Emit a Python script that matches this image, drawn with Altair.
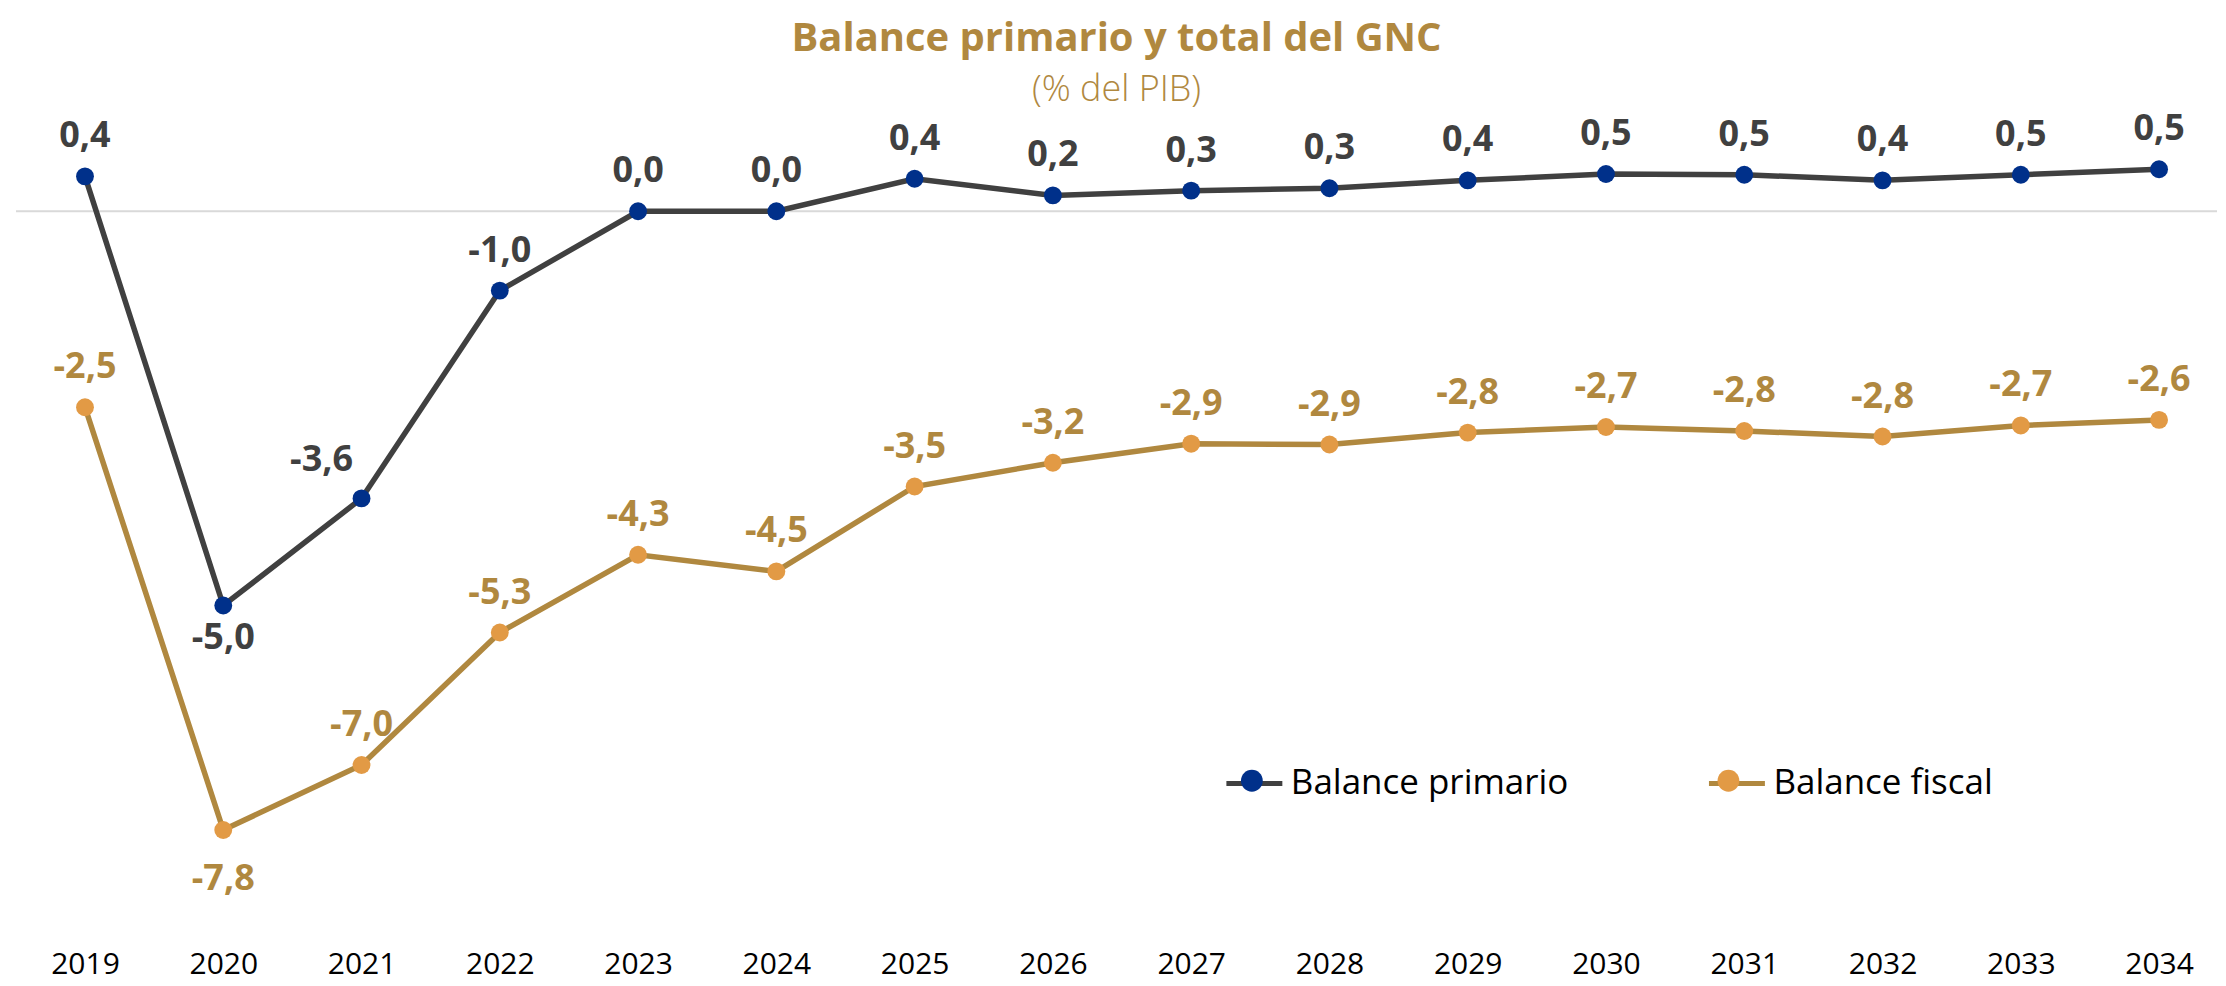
import altair as alt
import pandas as pd

# ---------------- data ----------------
anios = list(range(2019, 2035))
series = ["Balance primario", "Balance fiscal"]
balance_primario = [0.44, -4.97, -3.62, -1.00, 0.00, 0.00, 0.41, 0.20, 0.26, 0.29,
                    0.39, 0.47, 0.46, 0.39, 0.46, 0.53]
balance_fiscal = [-2.47, -7.80, -6.98, -5.31, -4.33, -4.54, -3.47, -3.17, -2.93, -2.94,
                  -2.79, -2.72, -2.77, -2.84, -2.70, -2.63]

rows = []
for s, vals in zip(series, [balance_primario, balance_fiscal]):
    for a, v in zip(anios, vals):
        rows.append({"anio": a, "serie": s, "serie_p": s, "valor": v,
                     "etiqueta": f"{v:.1f}".replace(".", ",")})
df = pd.DataFrame(rows)
cero = pd.DataFrame({"valor": [0]})

# ---------------- style ----------------
FONT = "Open Sans"
GRIS = "#404040"
ORO = "#B0883F"
AZUL = "#00308A"
NARANJA = "#E29A45"

T = 111.0          # page y of plot top
B = 942.5          # page y of plot bottom
ZERO = 214.0       # page y of zero line
PPU = 79.4         # px per unit
y_top = (ZERO - T) / PPU
y_bot = (ZERO - B) / PPU
H = B - T
W = 2203

x_dom = [2018.501, 2034.419]

x = alt.X("anio:Q",
          scale=alt.Scale(domain=x_dom, nice=False, zero=False),
          axis=alt.Axis(values=anios, format="d", title=None, grid=False, ticks=False,
                        domain=False, labelFont=FONT, labelFontSize=30, labelColor="#000000",
                        labelPadding=10, labelOverlap=False, labelFlush=False))
yscale = alt.Scale(domain=[y_bot, y_top], nice=False, zero=False)
y = alt.Y("valor:Q", scale=yscale, axis=None)

SYM = 3136
CIRC = ("M 0.39,0 C 0.39,0.2154 0.2154,0.39 0,0.39 C -0.2154,0.39 -0.39,0.2154 -0.39,0 "
        "C -0.39,-0.2154 -0.2154,-0.39 0,-0.39 C 0.2154,-0.39 0.39,-0.2154 0.39,0 Z")
LX = 1209
LY = 784 - 28 - T
LBL_W = 274   # measured width of the first legend label
legend_common = dict(title=None, orient="none", legendX=LX, legendY=LY, direction="horizontal",
                     symbolSize=SYM, labelFont=FONT, labelFontSize=35, labelLimit=800,
                     padding=0, rowPadding=0)

regla = alt.Chart(cero).mark_rule(color="#D9D9D9", strokeWidth=2).encode(
    y=alt.Y("valor:Q", scale=yscale, axis=None))

lineas = alt.Chart(df).mark_line(strokeWidth=5.5).encode(
    x=x, y=y,
    color=alt.Color("serie:N", scale=alt.Scale(domain=series, range=[GRIS, ORO]),
                    legend=alt.Legend(symbolType="stroke", symbolStrokeWidth=5,
                                      labelColor="#000000", labelOffset=6, columnPadding=130,
                                      **legend_common)),
)

puntos = alt.Chart(df).mark_point(filled=True, size=320, opacity=1, strokeWidth=0).encode(
    x=x, y=y,
    fill=alt.Fill("serie_p:N", sort=series, scale=alt.Scale(range=[AZUL, NARANJA]),
                  legend=alt.Legend(symbolType=CIRC, symbolStrokeWidth=0, symbolOpacity=1,
                                    labelExpr="''", labelOffset=6,
                                    columnPadding=141 + LBL_W, **legend_common)),
)

txt = dict(font=FONT, fontSize=36, fontWeight="bold", baseline="alphabetic", align="center")
es_p = alt.datum.serie == "Balance primario"
es_f = alt.datum.serie == "Balance fiscal"

t_p_arriba = alt.Chart(df).transform_filter(
    es_p & (alt.datum.anio != 2020) & (alt.datum.anio != 2021)
).mark_text(dy=-29, color=GRIS, **txt).encode(x=x, y=y, text="etiqueta:N")
t_p_abajo = alt.Chart(df).transform_filter(es_p & (alt.datum.anio == 2020)).mark_text(
    dy=44, color=GRIS, **txt).encode(x=x, y=y, text="etiqueta:N")
t_p_izq = alt.Chart(df).transform_filter(es_p & (alt.datum.anio == 2021)).mark_text(
    dy=-27, dx=-40, color=GRIS, **txt).encode(x=x, y=y, text="etiqueta:N")
t_f_arriba = alt.Chart(df).transform_filter(es_f & (alt.datum.anio != 2020)).mark_text(
    dy=-29, color=ORO, **txt).encode(x=x, y=y, text="etiqueta:N")
t_f_abajo = alt.Chart(df).transform_filter(es_f & (alt.datum.anio == 2020)).mark_text(
    dy=60, color=ORO, **txt).encode(x=x, y=y, text="etiqueta:N")

chart = alt.layer(
    regla, lineas, puntos, t_p_arriba, t_p_abajo, t_p_izq, t_f_arriba, t_f_abajo
).properties(
    width=W, height=H,
    background="white",
    padding={"left": 7, "right": 0, "top": 11, "bottom": 4},
    title=alt.Title("Balance primario y total del GNC", subtitle="(% del PIB)",
                    font=FONT, fontSize=40, fontWeight="bold", color=ORO,
                    subtitleFont=FONT, subtitleFontSize=36, subtitleColor=ORO,
                    subtitleFontWeight=300, subtitlePadding=14, anchor="middle", offset=0),
).configure_view(stroke=None)

chart.save("out.html", embed_options={"renderer": "svg", "actions": False})
